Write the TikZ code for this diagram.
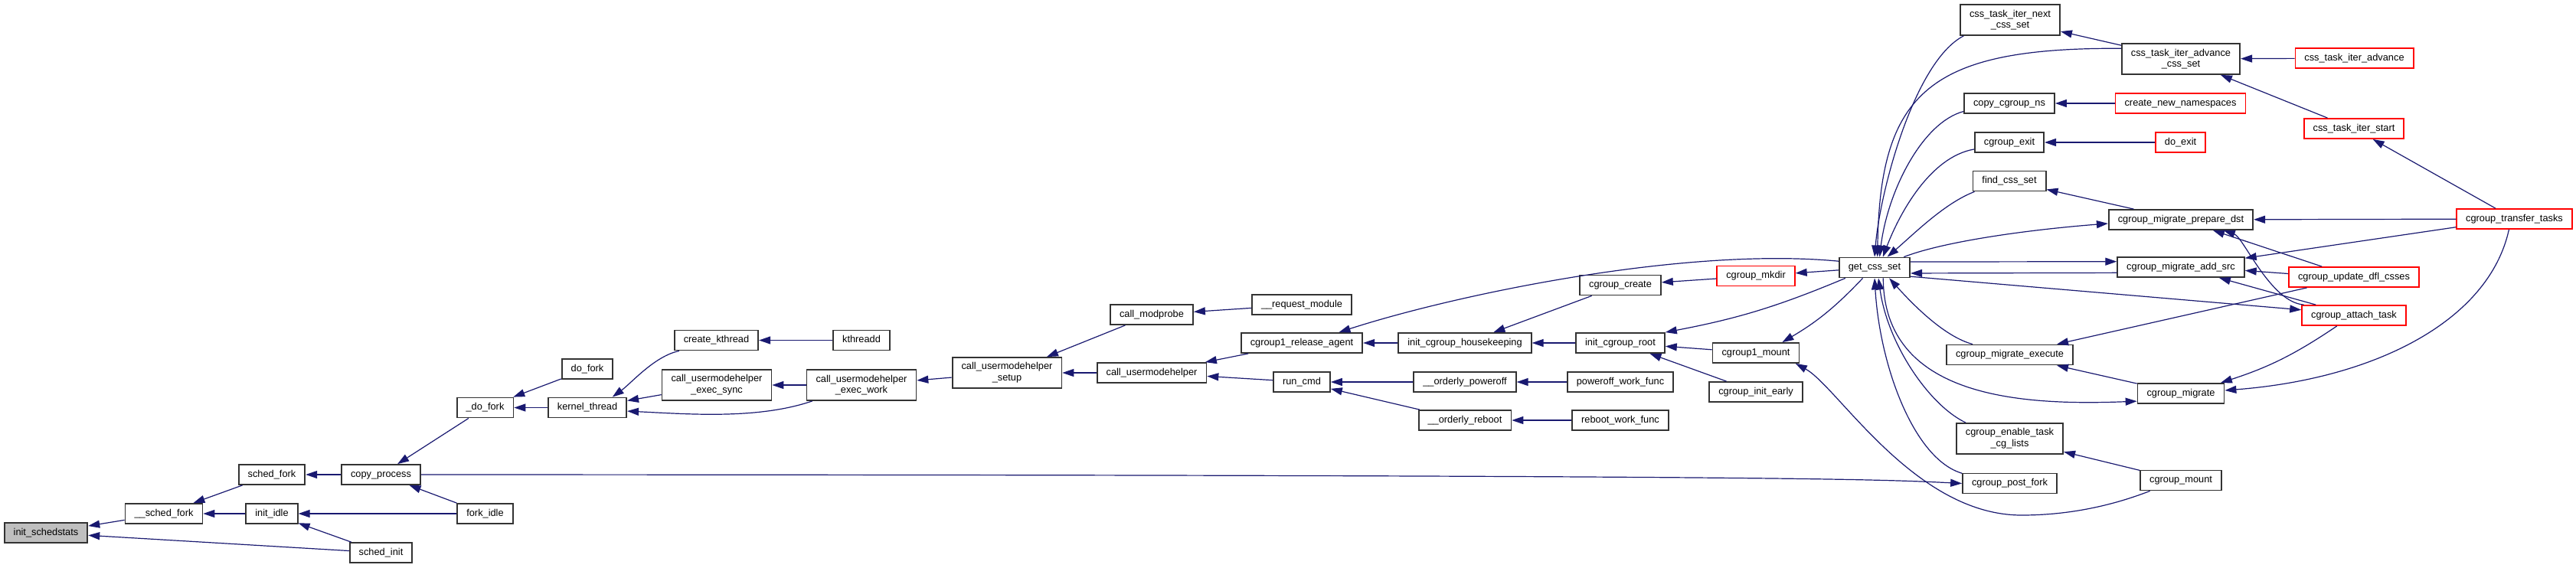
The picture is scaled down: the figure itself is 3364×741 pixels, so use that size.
\documentclass[tikz,border=0pt]{standalone}
\usepackage{fontspec}
\setmainfont{Liberation Sans}
\usetikzlibrary{arrows.meta}
\definecolor{cgblau}{HTML}{191970}
\definecolor{cgrot}{HTML}{FF0000}
\definecolor{cggrau}{HTML}{BFBFBF}
\definecolor{cgrand}{HTML}{333333}
\newcommand{\cglab}{\fontsize{6.4}{7.35}\selectfont}

\begin{document}
\begin{tikzpicture}[x=0.5pt,y=-0.5pt,
  fn/.style={draw=cgrand,line width=0.9pt,fill=white,inner xsep=6pt,inner ysep=0pt,
    minimum height=13pt,text height=4.7pt,text depth=1.4pt,font=\cglab},
  two/.style={align=center,minimum height=20pt,inner ysep=2pt,text height=,text depth=},
  rot/.style={draw=cgrot},
  call/.style={cgblau,line width=0.6pt,>={Triangle[length=7.5pt,width=5pt]}}]
\useasboundingbox (0,0) rectangle (3364,741);
% scheduler side
\node[fn,fill=cggrau] (init-schedstats) at (60,696) {init\_schedstats};
\node[fn] (sched-fork-in) at (214,671) {\_\_sched\_fork};
\node[fn] (sched-fork) at (355,620) {sched\_fork};
\node[fn] (init-idle) at (355,671) {init\_idle};
\node[fn] (copy-process) at (497.5,620) {copy\_process};
\node[fn] (sched-init) at (497.5,722) {sched\_init};
\node[fn] (do-fork-in) at (633.5,532.5) {\_do\_fork};
\node[fn] (fork-idle) at (633.5,671) {fork\_idle};
\node[fn] (do-fork) at (767,482) {do\_fork};
\node[fn] (kernel-thread) at (767,532.5) {kernel\_thread};
\node[fn] (create-kthread) at (935.5,444.5) {create\_kthread};
\node[fn,two] (umh-exec-sync) at (936,503) {call\_usermodehelper\\\_exec\_sync};
\node[fn] (kthreadd) at (1125,444.5) {kthreadd};
\node[fn,two] (umh-exec-work) at (1125,503) {call\_usermodehelper\\\_exec\_work};
\node[fn,two] (umh-setup) at (1315,487) {call\_usermodehelper\\\_setup};
\node[fn] (call-modprobe) at (1504,411) {call\_modprobe};
\node[fn] (call-umh) at (1504,487) {call\_usermodehelper};
\node[fn] (request-module) at (1700,398) {\_\_request\_module};
\node[fn] (release-agent) at (1700,448) {cgroup1\_release\_agent};
\node[fn] (run-cmd) at (1700,499) {run\_cmd};
\node[fn] (housekeeping) at (1913,448) {init\_cgroup\_housekeeping};
\node[fn] (orderly-poweroff) at (1913,499) {\_\_orderly\_poweroff};
\node[fn] (orderly-reboot) at (1913,549) {\_\_orderly\_reboot};
\node[fn] (cgroup-create) at (2116,372.5) {cgroup\_create};
\node[fn] (init-root) at (2116,448) {init\_cgroup\_root};
\node[fn] (poweroff-work) at (2116,499) {poweroff\_work\_func};
\node[fn] (reboot-work) at (2116,549) {reboot\_work\_func};
\node[fn,rot] (cgroup-mkdir) at (2293,360.5) {cgroup\_mkdir};
\node[fn] (cgroup1-mount) at (2293,461) {cgroup1\_mount};
\node[fn] (init-early) at (2293,512) {cgroup\_init\_early};
% cgroup side
\node[fn] (get-css-set) at (2448,349.5) {get\_css\_set};
\node[fn,two] (iter-next) at (2625,26) {css\_task\_iter\_next\\\_css\_set};
\node[fn] (copy-ns) at (2624,135) {copy\_cgroup\_ns};
\node[fn] (cgroup-exit) at (2624,186) {cgroup\_exit};
\node[fn] (find-css-set) at (2624,236.5) {find\_css\_set};
\node[fn] (migrate-execute) at (2624.5,463.5) {cgroup\_migrate\_execute};
\node[fn,two] (enable-lists) at (2624.5,573) {cgroup\_enable\_task\\\_cg\_lists};
\node[fn] (post-fork) at (2624.5,631.5) {cgroup\_post\_fork};
\node[fn,two] (iter-adv-css) at (2848,77) {css\_task\_iter\_advance\\\_css\_set};
\node[fn,rot] (new-ns) at (2847.5,135) {create\_new\_namespaces};
\node[fn,rot] (do-exit) at (2847.5,186) {do\_exit};
\node[fn] (prepare-dst) at (2848,287) {cgroup\_migrate\_prepare\_dst};
\node[fn] (add-src) at (2848,349) {cgroup\_migrate\_add\_src};
\node[fn] (cgroup-migrate) at (2848,514) {cgroup\_migrate};
\node[fn] (cgroup-mount) at (2848,627.5) {cgroup\_mount};
\node[fn,rot] (iter-advance) at (3074.5,76) {css\_task\_iter\_advance};
\node[fn,rot] (iter-start) at (3074,168) {css\_task\_iter\_start};
\node[fn,rot] (update-dfl) at (3074,362) {cgroup\_update\_dfl\_csses};
\node[fn,rot] (attach-task) at (3074,412) {cgroup\_attach\_task};
\node[fn,rot] (transfer-tasks) at (3283.5,286) {cgroup\_transfer\_tasks};
% calls
\draw[call,<-] (init-schedstats) -- (sched-fork-in);
\draw[call,<-] (init-schedstats) -- (sched-init);
\draw[call,<-] (sched-fork-in) -- (sched-fork);
\draw[call,<-] (sched-fork-in) -- (init-idle);
\draw[call,<-] (init-idle) -- (fork-idle);
\draw[call,<-] (init-idle) -- (sched-init);
\draw[call,<-] (sched-fork) -- (copy-process);
\draw[call,<-] (copy-process) -- (do-fork-in);
\draw[call,<-] (copy-process) -- (fork-idle);
\draw[call,<-] (do-fork-in) -- (do-fork);
\draw[call,<-] (do-fork-in) -- (kernel-thread);
\draw[call,<-] (kernel-thread.23) .. controls (825,500) and (855,465) .. (create-kthread.196);
\draw[call,<-] (kernel-thread) -- (umh-exec-sync);
\draw[call,<-] (kernel-thread.-5) .. controls (900,541) and (990,548) .. (umh-exec-work.198);
\draw[call,<-] (create-kthread) -- (kthreadd);
\draw[call,<-] (umh-exec-sync) -- (umh-exec-work);
\draw[call,<-] (umh-exec-work) -- (umh-setup);
\draw[call,<-] (umh-setup) -- (call-modprobe);
\draw[call,<-] (umh-setup) -- (call-umh);
\draw[call,<-] (call-modprobe) -- (request-module);
\draw[call,<-] (call-umh) -- (release-agent);
\draw[call,<-] (call-umh) -- (run-cmd);
\draw[call,<-] (release-agent) -- (housekeeping);
\draw[call,<-] (release-agent.16) .. controls (1900,385) and (2200,322) .. (get-css-set.170);
\draw[call,<-] (housekeeping) -- (cgroup-create);
\draw[call,<-] (housekeeping) -- (init-root);
\draw[call,<-] (run-cmd) -- (orderly-poweroff);
\draw[call,<-] (run-cmd) -- (orderly-reboot);
\draw[call,<-] (orderly-poweroff) -- (poweroff-work);
\draw[call,<-] (orderly-reboot) -- (reboot-work);
\draw[call,<-] (cgroup-create) -- (cgroup-mkdir);
\draw[call,<-] (cgroup-mkdir) -- (get-css-set);
\draw[call,<-] (init-root.north east) to[bend right=6] (get-css-set.200);
\draw[call,<-] (init-root) -- (cgroup1-mount);
\draw[call,<-] (init-root) -- (init-early);
\draw[call,<-] (cgroup1-mount.22) to[bend right=8] (get-css-set.222);
\draw[call,<-] (cgroup1-mount.-15) .. controls (2400,505) and (2500,673) .. (2640,673)
  .. controls (2720,673) and (2780,652) .. (cgroup-mount.199);
\draw[call,<-] (post-fork.west) .. controls (2450,626) and (2350,620.5) .. (copy-process.east);
\draw[call,<-] (get-css-set.north) .. controls (2455,250) and (2500,80) .. (iter-next.199);
\draw[call,<-] (get-css-set.75) .. controls (2455,120) and (2520,62) .. (iter-adv-css.170);
\draw[call,<-] (get-css-set.65) .. controls (2465,250) and (2510,160) .. (copy-ns.190);
\draw[call,<-] (get-css-set.52) .. controls (2480,280) and (2520,205) .. (cgroup-exit.191);
\draw[call,<-] (get-css-set.40) .. controls (2500,305) and (2540,265) .. (find-css-set.197);
\draw[call,<-] (prepare-dst.183) .. controls (2650,300) and (2540,315) .. (get-css-set.20);
\draw[call,<-] (add-src.175) -- (get-css-set.9);
\draw[call,<-] (get-css-set.351) -- (add-src.185);
\draw[call,<-] (attach-task.174) -- (get-css-set.346);
\draw[call,<-] (get-css-set.324) .. controls (2500,400) and (2540,440) .. (migrate-execute.164);
\draw[call,<-] (cgroup-migrate.190) .. controls (2640,530) and (2460,520) .. (get-css-set.309);
\draw[call,<-] (get-css-set.290) .. controls (2465,450) and (2520,530) .. (enable-lists.160);
\draw[call,<-] (get-css-set.south) .. controls (2455,480) and (2500,600) .. (post-fork.168);
\draw[call,<-] (find-css-set) -- (prepare-dst);
\draw[call,<-] (prepare-dst) -- (transfer-tasks);
\draw[call,<-] (prepare-dst) -- (update-dfl);
\draw[call,<-] (prepare-dst.346) .. controls (2930,310) and (2965,395) .. (attach-task.168);
\draw[call,<-] (add-src.8) -- (transfer-tasks.188);
\draw[call,<-] (add-src.357) -- (update-dfl.177);
\draw[call,<-] (add-src) -- (attach-task);
\draw[call,<-] (migrate-execute) -- (update-dfl);
\draw[call,<-] (migrate-execute) -- (cgroup-migrate);
\draw[call,<-] (cgroup-migrate.15) to[bend right=8] (attach-task.212);
\draw[call,<-] (cgroup-migrate.4) .. controls (3100,495) and (3250,420) .. (transfer-tasks.243);
\draw[call,<-] (iter-next) -- (iter-adv-css);
\draw[call,<-] (iter-adv-css) -- (iter-advance);
\draw[call,<-] (iter-adv-css) -- (iter-start);
\draw[call,<-] (iter-start) -- (transfer-tasks);
\draw[call,<-] (copy-ns) -- (new-ns);
\draw[call,<-] (cgroup-exit) -- (do-exit);
\draw[call,<-] (enable-lists) -- (cgroup-mount);
\end{tikzpicture}
\end{document}
